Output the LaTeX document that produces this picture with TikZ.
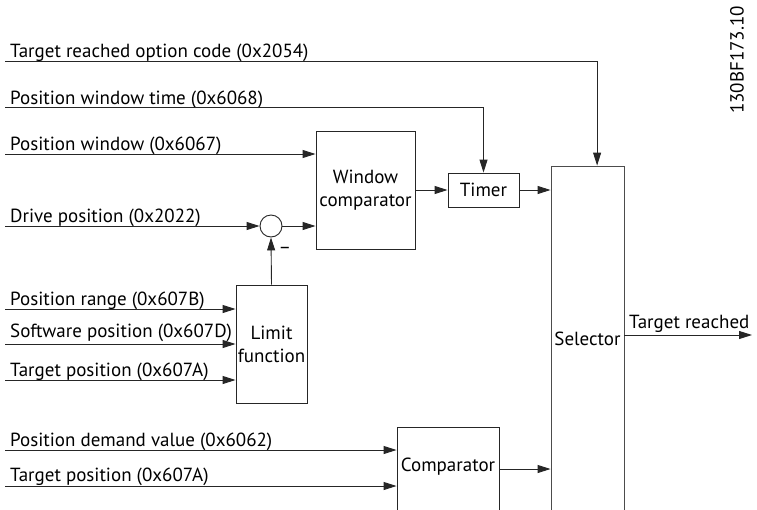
\documentclass[tikz,border=0pt]{standalone}
\usepackage{fontspec}
\setmainfont{PT Sans}
\usetikzlibrary{arrows.meta,calc}
\begin{document}
\begin{tikzpicture}[x=1pt,y=-1pt,
  ln/.style={draw=black!85,line width=0.9pt},
  arr/.style={ln,-{Triangle[length=13pt,width=8pt]}},
  blk/.style={draw=black!85,line width=0.9pt,rectangle,inner sep=0pt,align=center,font=\fontsize{19}{23}\selectfont},
  lbl/.style={anchor=base west,inner sep=0pt,font=\fontsize{19}{23}\selectfont},
  txt/.style={inner sep=0pt,align=center,font=\fontsize{19}{23}\selectfont}]
\clip (0,0) rectangle (757,509);
\fill[white] (0,0) rectangle (757,509);

% blocks
\node[blk,minimum width=99pt,minimum height=118pt] (wc) at (365.5,190) {Window\\comparator};
\node[blk,minimum width=71pt,minimum height=34pt] (timer) at (483.5,190) {Timer};
\node[blk,minimum width=71pt,minimum height=118pt] (lim) at (271.5,344) {Limit\\function};
\node[blk,draw=black!70,minimum width=73pt,minimum height=364pt] (sel) at (587.5,348) {};
\node[txt] (selt) at (587.5,339) {Selector};
\node[blk,minimum width=102pt,minimum height=110pt] (cmp) at (448,482) {};
\node[txt] (cmpt) at (448,467) {Comparator};
\node[draw=black!85,line width=0.9pt,circle,minimum size=22pt,inner sep=0pt] (circ) at (271,226) {};
\node[txt] (minus) at (285,250) {–};

% input start coordinates
\coordinate (trc) at (5,61);
\coordinate (pwt) at (5,107);
\coordinate (pw) at (5,154);
\coordinate (dp) at (5,226);
\coordinate (pr) at (5,309);
\coordinate (sp) at (5,344);
\coordinate (tp1) at (5,380);
\coordinate (pdv) at (5,450);
\coordinate (tp2) at (5,486);
\coordinate (selin) at ($(sel.north west)!0.63!(sel.north east)$);
\coordinate (out) at (752,335);
\coordinate (cmpo) at (499,469);

% labels
\node[lbl] (trcl) at (10,57) {Target reached option code (0x2054)};
\node[lbl] (pwtl) at (10,104) {Position window time (0x6068)};
\node[lbl] (pwl) at (10,150) {Position window (0x6067)};
\node[lbl] (dpl) at (10,222) {Drive position (0x2022)};
\node[lbl] (prl) at (10,305) {Position range (0x607B)};
\node[lbl] (spl) at (10,337) {Software position (0x607D)};
\node[lbl] (tp1l) at (10,376) {Target position (0x607A)};
\node[lbl] (pdvl) at (10,446) {Position demand value (0x6062)};
\node[lbl] (tp2l) at (10,481) {Target position (0x607A)};
\node[lbl] (outl) at (629,328) {Target reached};
\node[txt,rotate=90,font=\fontsize{19}{21}\selectfont] (code) at (737,60) {130BF173.10};

% connectors
\draw[arr] (trc) -| (selin);
\draw[arr] (pwt) -| (timer.north);
\draw[arr] (pw) -- (pw -| wc.west);
\draw[arr] (dp) -- (circ.west);
\draw[arr] (circ.east) -- (circ.east -| wc.west);
\draw[arr] (lim.north) -- (circ.south);
\draw[arr] (wc.east |- timer.west) -- (timer.west);
\draw[arr] (timer.east) -- (timer.east -| sel.west);
\draw[arr] (pr) -- (pr -| lim.west);
\draw[arr] (sp) -- (sp -| lim.west);
\draw[arr] (tp1) -- (tp1 -| lim.west);
\draw[arr] (pdv) -- (pdv -| cmp.west);
\draw[arr] (tp2) -- (tp2 -| cmp.west);
\draw[arr] (cmpo) -- (cmpo -| sel.west);
\draw[arr] (sel.east |- out) -- (out);
\end{tikzpicture}
\end{document}
